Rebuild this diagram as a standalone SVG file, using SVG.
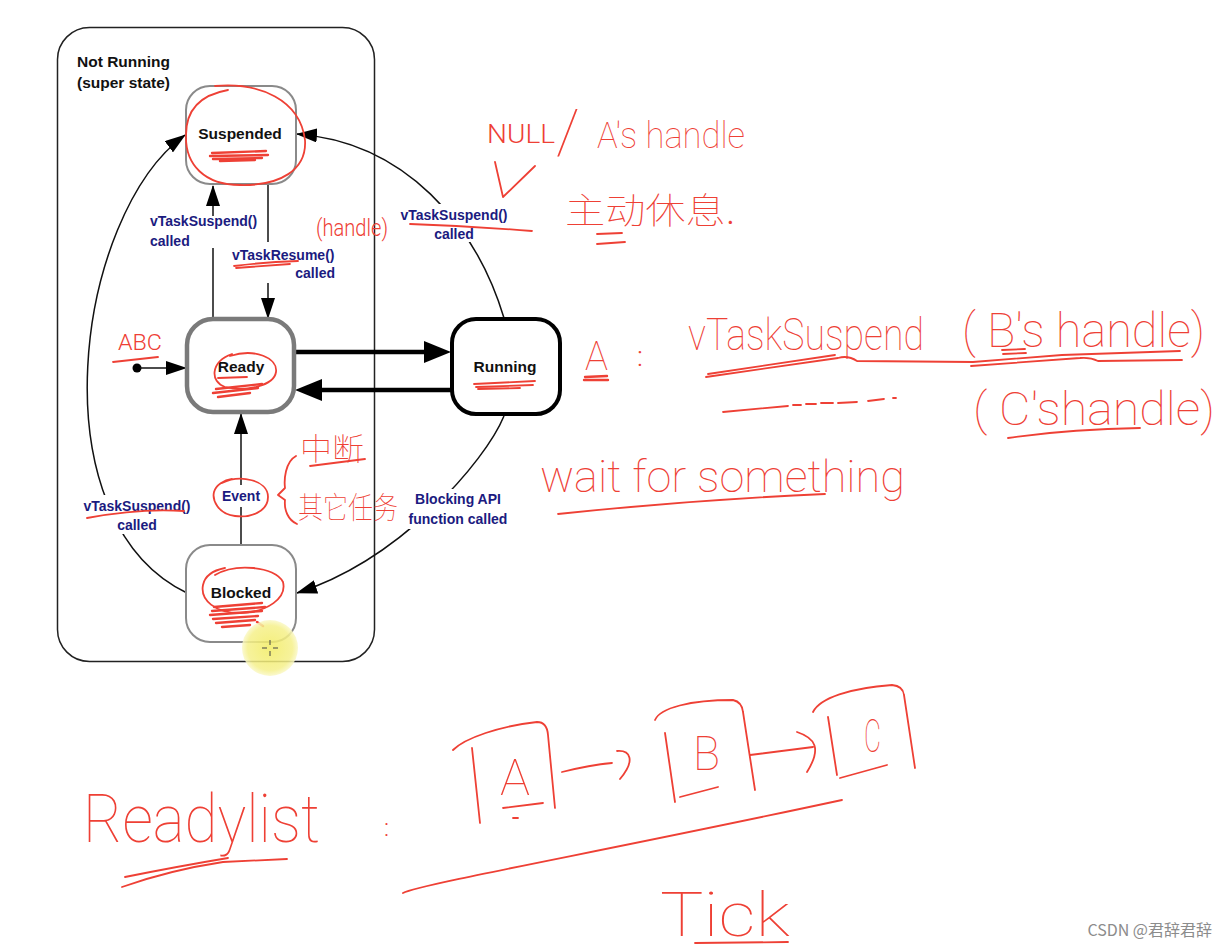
<svg xmlns="http://www.w3.org/2000/svg" width="1229" height="949" viewBox="0 0 1229 949">
<style>
.st{font-family:"Liberation Sans",Arial,sans-serif;font-weight:bold;font-size:15.5px;fill:#111;}
.nl{font-family:"Liberation Sans",Arial,sans-serif;font-weight:bold;font-size:15.5px;fill:#111;text-anchor:middle;}
.lbl{font-family:"Liberation Sans",Arial,sans-serif;font-weight:bold;font-size:14px;fill:#1b1b80;}
.mid{text-anchor:middle;}
.end{text-anchor:end;}
.edge{fill:none;stroke:#111;stroke-width:1.5;}
.thick{fill:none;stroke:#000;stroke-width:4.5;}
.hand{font-family:Roboto,"Liberation Sans",sans-serif;font-weight:100;fill:#ee4035;}
.hsm{font-family:Roboto,"Liberation Sans",sans-serif;font-weight:300;fill:#ee4035;}
.hcjk{font-family:"Noto Sans CJK SC",sans-serif;font-weight:100;fill:#ee4035;}
.pen{fill:none;stroke:#ee4035;stroke-width:1.8;stroke-linecap:round;stroke-linejoin:round;}
.pen2{fill:none;stroke:#ee4035;stroke-width:2.4;stroke-linecap:round;stroke-linejoin:round;}
</style>
<defs>
<marker id="ah" markerUnits="userSpaceOnUse" markerWidth="21" markerHeight="14" refX="20" refY="7" orient="auto">
<path d="M0,0 L21,7 L0,14 z" fill="#000"/>
</marker>
<radialGradient id="hl" cx="0.5" cy="0.5" r="0.5">
<stop offset="0" stop-color="#f2ec62"/>
<stop offset="0.8" stop-color="#f5f08a"/>
<stop offset="1" stop-color="#faf8c8"/>
</radialGradient>
</defs>
<rect width="1229" height="949" fill="#fff"/>

<g id="not-running">
<rect x="57.5" y="27.5" width="317" height="634" rx="32" fill="none" stroke="#222" stroke-width="1.5"/>
<text class="st" x="77" y="67">Not Running</text>
<text class="st" x="77" y="88">(super state)</text>
</g>

<g id="connectors">
<path class="edge" d="M213,318 L213,248"/>
<path class="edge" d="M213,216 L213,186" marker-end="url(#ah)"/>
<path class="edge" d="M268,184 L268,242"/>
<path class="edge" d="M268,283 L268,318" marker-end="url(#ah)"/>
<circle cx="137" cy="368" r="4.5" fill="#000"/>
<path class="edge" d="M140,368 L186,368" marker-end="url(#ah)"/>
<path class="edge" d="M241,545 L241,507"/>
<path class="edge" d="M241,485 L241,414" marker-end="url(#ah)"/>
<path class="thick" d="M295,352 L425,352"/>
<path d="M451,352 L424,341 L424,363 z" fill="#000"/>
<path class="thick" d="M451,390 L321,390"/>
<path d="M295,390 L322,379 L322,401 z" fill="#000"/>
<path class="edge" d="M504,318 C 476,225 405,142 297,134" marker-end="url(#ah)"/>
<path class="edge" d="M504,416 C 485,462 400,560 297,593" marker-end="url(#ah)"/>
<path class="edge" d="M187,593 C 35,520 75,215 185,135" marker-end="url(#ah)"/>
<rect x="398" y="204" width="112" height="38" fill="#fff"/>
<rect x="405" y="489" width="108" height="40" fill="#fff"/>
<rect x="83" y="495" width="110" height="39" fill="#fff"/>
<text class="lbl" x="150" y="226">vTaskSuspend()</text>
<text class="lbl" x="150" y="246">called</text>
<text class="lbl" x="232" y="260">vTaskResume()</text>
<text class="lbl end" x="335" y="278">called</text>
<text class="lbl mid" x="454" y="220">vTaskSuspend()</text>
<text class="lbl mid" x="454" y="239">called</text>
<text class="lbl mid" x="241" y="501">Event</text>
<text class="lbl mid" x="458" y="504">Blocking API</text>
<text class="lbl mid" x="458" y="524">function called</text>
<text class="lbl mid" x="137" y="511">vTaskSuspend()</text>
<text class="lbl mid" x="137" y="530">called</text>
</g>

<g id="suspended">
<rect x="186" y="86" width="110" height="98" rx="24" fill="#fff" stroke="#8a8a8a" stroke-width="2"/>
<text class="nl" x="240" y="139">Suspended</text>
</g>
<g id="ready">
<rect x="187" y="319" width="107" height="93" rx="26" fill="#fff" stroke="#7a7a7a" stroke-width="4.5"/>
<text class="nl" x="241" y="372">Ready</text>
</g>
<g id="running">
<rect x="452" y="319" width="108" height="95" rx="24" fill="#fff" stroke="#000" stroke-width="4"/>
<text class="nl" x="505" y="372">Running</text>
</g>
<g id="blocked">
<rect x="186" y="545" width="110" height="97" rx="24" fill="#fff" stroke="#8a8a8a" stroke-width="2"/>
<text class="nl" x="241" y="598">Blocked</text>
</g>

<g id="annotations">
<path class="pen" d="M215,86 C 260,82 300,100 305,140 C 307,170 280,186 240,185 C 205,185 185,165 186,135 C 186,110 200,95 228,90"/>
<path class="pen2" d="M212,153 L266,151 M210,156 L268,155 M213,159 L262,158 M220,161 L255,160"/>
<path class="pen" d="M234,266 Q265,262 298,261 M236,268 L290,264"/>
<text class="hsm" x="316" y="236" font-size="23" textLength="72" lengthAdjust="spacingAndGlyphs">(handle)</text>
<path class="pen" d="M410,224 Q470,226 532,231"/>
<text class="hsm" x="487" y="143" font-size="25" textLength="68" lengthAdjust="spacingAndGlyphs">NULL</text>
<text class="hand" x="556" y="153" font-size="62">/</text>
<text class="hand" x="597" y="148" font-size="36" textLength="148" lengthAdjust="spacingAndGlyphs">A's handle</text>
<path class="pen" d="M495,162 L503,197 L535,166"/>
<text class="hcjk" x="565" y="224" font-size="36" textLength="170" lengthAdjust="spacingAndGlyphs">主动休息.</text>
<path class="pen" d="M597,234 L622,233 M597,244 L625,242"/>

<text class="hsm" x="118" y="350" font-size="22" textLength="44" lengthAdjust="spacingAndGlyphs">ABC</text>
<path class="pen" d="M113,362 L158,357"/>
<path class="pen" d="M230,356 C 255,348 278,358 276,372 C 274,386 245,392 225,387 C 210,382 210,362 232,354"/>
<path class="pen" d="M218,378 L247,377"/>
<path class="pen2" d="M216,389 L262,384 M213,393 L258,388 M218,397 L250,393"/>
<path class="pen" d="M474,384 L535,381 M476,387 L533,385 M478,389 L520,388"/>

<text class="hcjk" x="300" y="460" font-size="31" textLength="64" lengthAdjust="spacingAndGlyphs">中断</text>
<path class="pen" d="M310,466 L365,459"/>
<path class="pen" d="M296,456 C 285,462 284,480 285,488 L278,495 L285,500 C 284,510 288,520 297,524"/>
<text class="hcjk" x="298" y="518" font-size="30" textLength="100" lengthAdjust="spacingAndGlyphs">其它任务</text>
<path class="pen" d="M222,483 C 240,474 268,480 268,497 C 268,512 250,518 235,516 C 218,514 212,500 214,492 C 216,485 224,480 232,479"/>
<path class="pen" d="M87,518 Q140,508 184,511"/>
<path class="pen" d="M215,575 C 235,563 275,566 283,582 C 287,598 268,612 240,613 C 215,613 200,600 203,585 C 205,575 215,570 225,568"/>
<path class="pen2" d="M214,607 L262,603 M212,611 L265,607 M210,615 L262,611 M213,619 L258,616 M216,623 L255,620 M222,627 L250,625 M257,622 L263,626"/>

<text class="hand" x="585" y="370" font-size="40" textLength="23" lengthAdjust="spacingAndGlyphs">A</text>
<path class="pen2" d="M585,377 L607,376 M584,380 L608,380"/>
<text class="hsm" x="637" y="366" font-size="28">:</text>
<text class="hand" x="688" y="350" font-size="44" textLength="236" lengthAdjust="spacingAndGlyphs">vTaskSuspend</text>
<text class="hand" x="962" y="347" font-size="48" textLength="243" lengthAdjust="spacingAndGlyphs">( B's handle)</text>
<path class="pen" d="M1002,350 L1025,349 M1003,354 L1026,353"/>
<path class="pen" d="M706,377 L838,358 Q848,355 857,361 L973,362 L1062,355 L1180,351"/>
<path class="pen" d="M708,374 L835,355"/>
<path class="pen" d="M971,366 L1080,358 Q1090,357 1098,361 L1182,360"/>
<path class="pen" d="M723,412 L788,406 M793,405 L801,405 M806,404 L816,404 M821,403 L833,403 M838,403 L857,402 M868,401 L884,399 M893,398 L896,398"/>
<text class="hand" x="973" y="425" font-size="46" textLength="242" lengthAdjust="spacingAndGlyphs">( C'shandle)</text>
<path class="pen" d="M1008,438 Q1070,429 1140,428"/>
<text class="hand" x="540" y="492" font-size="44" textLength="365" lengthAdjust="spacingAndGlyphs">wait for something</text>
<path class="pen" d="M558,514 Q690,500 825,494"/>

<text class="hand" x="83" y="842" font-size="66" textLength="237" lengthAdjust="spacingAndGlyphs">Readylist</text>
<path class="pen" d="M125,877 Q180,866 228,858 M122,887 Q170,870 223,862 L287,859"/>
<text class="hsm" x="384" y="836" font-size="24">:</text>
<path class="pen" d="M453,750 C 465,738 500,726 537,722 Q547,722 548,735 L555,808 M472,748 L480,823 M503,808 L543,803 M513,818 L518,818"/>
<text class="hand" x="500" y="795" font-size="50" textLength="30" lengthAdjust="spacingAndGlyphs">A</text>
<path class="pen" d="M562,772 Q590,765 612,763 M617,751 C 630,750 636,760 620,779"/>
<path class="pen" d="M655,720 C 660,708 690,700 733,700 Q742,702 743,712 L755,790 M665,733 L675,802 M680,797 L718,787"/>
<text class="hand" x="693" y="770" font-size="48" textLength="27" lengthAdjust="spacingAndGlyphs">B</text>
<path class="pen" d="M750,755 L813,747 M797,732 C 815,738 822,748 807,772"/>
<path class="pen" d="M813,712 C 820,698 850,688 892,685 Q903,686 904,695 L915,768 M828,717 L837,775 M840,778 L887,765"/>
<text class="hand" x="864" y="752" font-size="46" textLength="17" lengthAdjust="spacingAndGlyphs">C</text>
<path class="pen" d="M403,893 C 420,884 600,852 842,800"/>
<text class="hand" x="660" y="936" font-size="62" textLength="130" lengthAdjust="spacingAndGlyphs">Tick</text>
<path class="pen" d="M695,943 L788,942"/>
</g>

<g id="highlight">
<circle cx="270" cy="648" r="28" fill="url(#hl)" opacity="0.85"/>
<path d="M262,648 H267 M273,648 H278 M270,640 V645 M270,651 V656" stroke="#444" stroke-width="1" fill="none"/>
</g>

<text x="1212" y="936" font-family="'Noto Sans CJK SC','Liberation Sans',sans-serif" font-size="16" fill="#8c8c8c" text-anchor="end">CSDN @君辞君辞</text>
</svg>
